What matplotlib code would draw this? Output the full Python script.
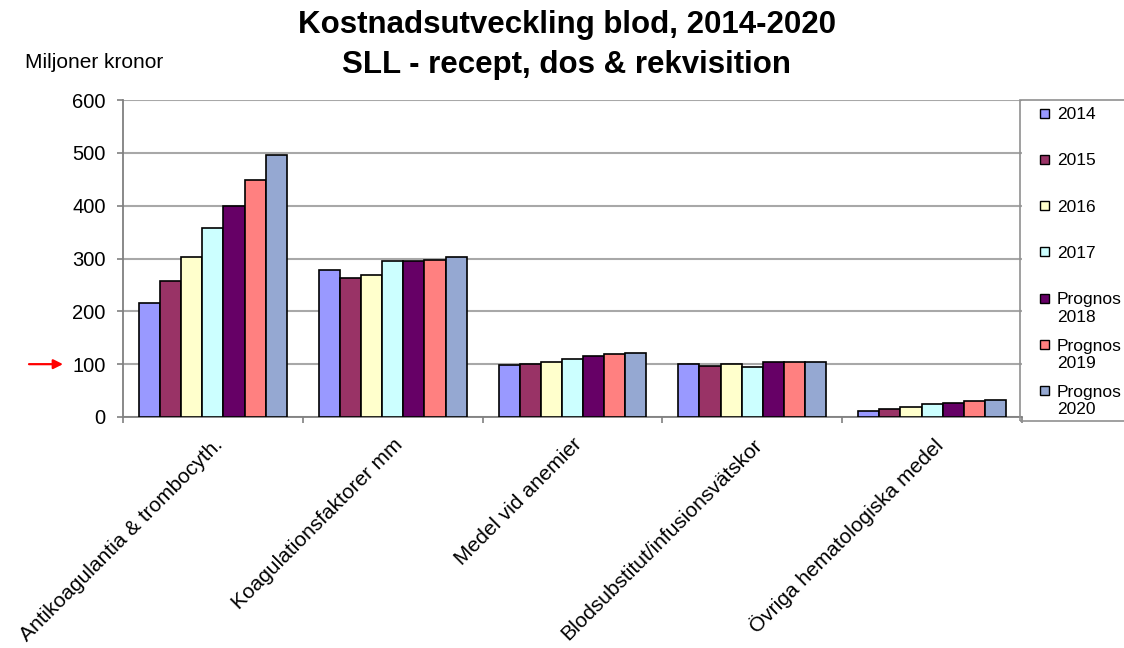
import numpy as np
import matplotlib.pyplot as plt
from matplotlib.patches import Rectangle

plt.rcParams['font.family'] = ['Liberation Sans', 'DejaVu Sans']

kategorier = ['Antikoagulantia & trombocyth.', 'Koagulationsfaktorer mm',
              'Medel vid anemier', 'Blodsubstitut/infusionsvätskor',
              'Övriga hematologiska medel']
serier = ['2014', '2015', '2016', '2017',
          'Prognos\n2018', 'Prognos\n2019', 'Prognos\n2020']

# miljoner kronor per kategori
v2014 = [215, 278, 98, 101, 12]
v2015 = [258, 263, 101, 96, 16]
v2016 = [302, 269, 104, 101, 19]
v2017 = [357, 295, 109, 94, 24]
v2018 = [400, 296, 115, 104, 26]
v2019 = [448, 297, 119, 104, 30]
v2020 = [495, 302, 122, 105, 33]
yticks = [0, 100, 200, 300, 400, 500, 600]

varden = [v2014, v2015, v2016, v2017, v2018, v2019, v2020]
farger = ['#9999FF', '#993366', '#FFFFCC', '#CCFFFF',
          '#660066', '#FF8080', '#95A8D2']

W, H = 1124, 648
fig = plt.figure(figsize=(W / 100, H / 100), dpi=100)
ax = fig.add_axes([123 / W, 1 - 417 / H, (1022 - 123) / W, (417 - 100) / H])

x = np.arange(len(kategorier))
bw = 0.1175
for j, (vals, c) in enumerate(zip(varden, farger)):
    ax.bar(x + (j - 3) * bw, vals, bw, color=c, edgecolor='black',
           linewidth=1.2, zorder=3)

ax.set_xlim(-0.5, len(kategorier) - 0.5)
ax.set_ylim(0, 600)
ax.set_yticks(yticks)
ax.yaxis.grid(True, color='#A8A8A8', linewidth=1.5, zorder=0)
ax.set_axisbelow(True)

for s in ['top', 'right']:
    ax.spines[s].set_visible(False)
ax.spines['left'].set_color('#808080')
ax.spines['bottom'].set_color('#808080')
ax.spines['left'].set_linewidth(1.3)
ax.spines['bottom'].set_linewidth(1.3)

ax.tick_params(axis='y', length=4.5, width=1.2, color='#808080',
               labelsize=14.5, pad=8)
ax.set_xticks(x)
ax.set_xticklabels(kategorier, rotation=45, ha='right',
                   rotation_mode='anchor', fontsize=15)
ax.set_xticks(np.arange(len(kategorier) + 1) - 0.5, minor=True)
ax.tick_params(axis='x', which='major', length=0, pad=13)
ax.tick_params(axis='x', which='minor', length=4.5, width=1.2,
               color='#808080')

fig.text(567 / W, 1 - 45 / H,
         'Kostnadsutveckling blod, 2014-2020\nSLL - recept, dos & rekvisition',
         ha='center', va='center', fontsize=22.5, fontweight='bold',
         linespacing=1.4)
fig.text(25 / W, 1 - 62 / H, 'Miljoner kronor', ha='left', va='center',
         fontsize=15)

# röd pil mot 100-nivån
ax.annotate('', xy=(63 / W, 100), xytext=(29 / W, 100),
            xycoords=('figure fraction', 'data'),
            textcoords=('figure fraction', 'data'),
            arrowprops=dict(arrowstyle='-|>', color='red', lw=1.6,
                            mutation_scale=14, shrinkA=0, shrinkB=0),
            annotation_clip=False)

# förklaring
fig.patches.append(Rectangle((1020 / W, 1 - 421 / H), 0.2, 321 / H,
                             transform=fig.transFigure, fill=False,
                             edgecolor='#909090', linewidth=1.2))
for j, (namn, c) in enumerate(zip(serier, farger)):
    yc = 113 + j * 46.3
    fig.patches.append(Rectangle((1040 / W, 1 - (yc + 4.5) / H), 9 / W, 9 / H,
                                 transform=fig.transFigure, facecolor=c,
                                 edgecolor='black', linewidth=1))
    fig.text(1057 / W, 1 - (yc - 6) / H, namn, ha='left', va='top',
             fontsize=12.5, linespacing=1.2)

fig.savefig('out.png', dpi=100)
